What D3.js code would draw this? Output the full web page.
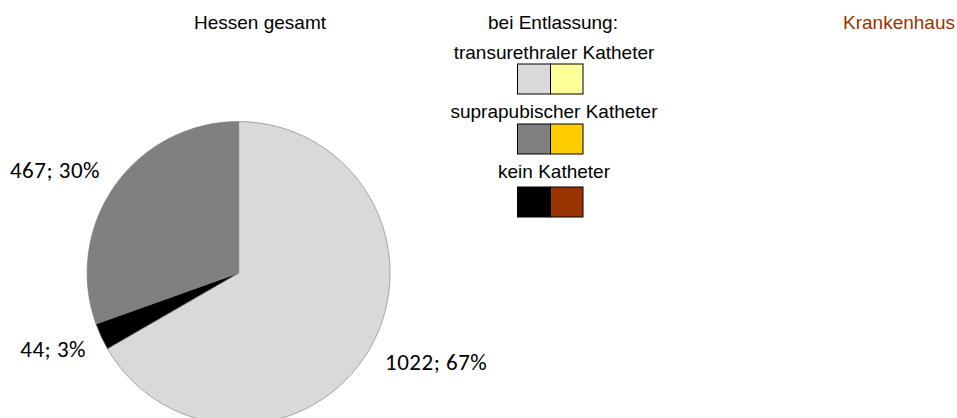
<!DOCTYPE html>
<html><head><meta charset="utf-8">
<script src="https://cdn.jsdelivr.net/npm/d3@7"></script>
<style>body{margin:0;background:#fff}svg{display:block}</style>
</head><body>
<script>
const categories = ["transurethraler Katheter", "kein Katheter", "suprapubischer Katheter"];
const values = [1022, 44, 467];
const percents = ["67%", "3%", "30%"];
const colorsHessen = ["#d9d9d9", "#000000", "#808080"];
const legendItems = ["transurethraler Katheter", "suprapubischer Katheter", "kein Katheter"];
const legendHessen = ["#d9d9d9", "#808080", "#000000"];
const legendKH = ["#ffff99", "#ffcc00", "#993300"];

const W = 957, H = 418;
const svg = d3.select("body").append("svg").attr("width", W).attr("height", H);

const cx = 238.6, cy = 273, r = 151.5;
const pie = d3.pie().sort(null).value(d => d)(values);
const arc = d3.arc().innerRadius(0).outerRadius(r);
const g = svg.append("g").attr("transform", `translate(${cx},${cy})`);
g.selectAll("path").data(pie).join("path")
  .attr("d", arc).attr("fill", (d, i) => colorsHessen[i])
  .attr("stroke", "#777").attr("stroke-width", 0.6);

const labelPos = [[385, 370, "start"], [86, 357, "end"], [100, 178, "end"]];
svg.selectAll("text.lbl").data(values).join("text").attr("class", "lbl")
  .attr("x", (d, i) => labelPos[i][0]).attr("y", (d, i) => labelPos[i][1])
  .attr("text-anchor", (d, i) => labelPos[i][2])
  .attr("font-family", "Carlito, Lato, 'Open Sans', sans-serif").attr("font-size", 23)
  .attr("letter-spacing", 0.5)
  .attr("fill", "#000").text((d, i) => `${d}; ${percents[i]}`);

const tf = "'Liberation Sans', Arial, sans-serif";
const fs = 19;
svg.append("text").attr("x", 260).attr("y", 29).attr("text-anchor", "middle")
  .attr("font-family", tf).attr("font-size", fs).text("Hessen gesamt");
svg.append("text").attr("x", 955).attr("y", 29).attr("text-anchor", "end")
  .attr("font-family", tf).attr("font-size", fs).attr("fill", "#993300").text("Krankenhaus");
svg.append("text").attr("x", 553).attr("y", 29).attr("text-anchor", "middle")
  .attr("font-family", tf).attr("font-size", fs).text("bei Entlassung:");

const ly = [59, 118, 178], by = [64, 124, 187];
legendItems.forEach((t, i) => {
  svg.append("text").attr("x", 554).attr("y", ly[i]).attr("text-anchor", "middle")
    .attr("font-family", tf).attr("font-size", fs).text(t);
  svg.append("rect").attr("x", 517.5).attr("y", by[i]).attr("width", 33).attr("height", 30)
    .attr("fill", legendHessen[i]).attr("stroke", "#000").attr("stroke-width", 1);
  svg.append("rect").attr("x", 550.5).attr("y", by[i]).attr("width", 32.5).attr("height", 30)
    .attr("fill", legendKH[i]).attr("stroke", "#000").attr("stroke-width", 1);
});
</script>
</body></html>
